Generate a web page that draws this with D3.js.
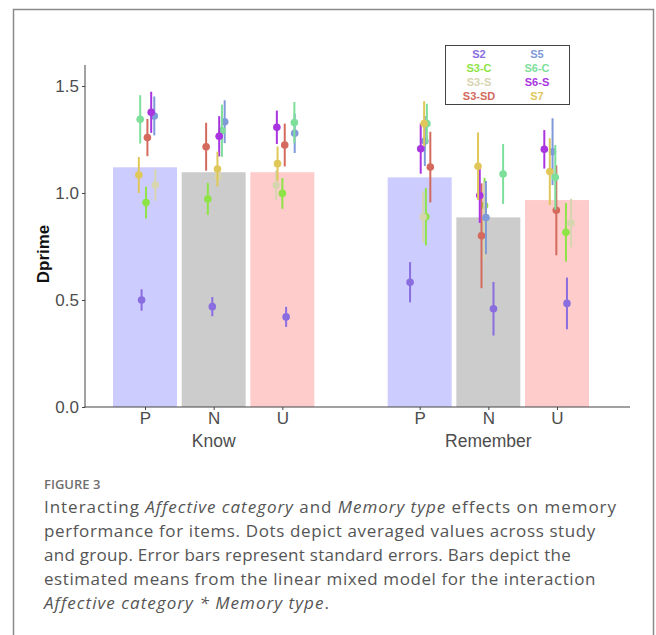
<!DOCTYPE html>
<html>
<head>
<meta charset="utf-8">
<script src="https://cdn.jsdelivr.net/npm/d3@7"></script>
<style>
  body { margin: 0; background: #fff; }
  svg { display: block; }
</style>
</head>
<body>
<div id="chart"></div>
<script>
const groups = ["Know", "Remember"];
const affects = ["P", "N", "U"];
const barMeans = [1.12, 1.097, 1.097, 1.073, 0.886, 0.967]; // KP KN KU RP RN RU
const barColors = ["#ccccff", "#cccccc", "#ffcccc"];

const studies = ["S2", "S3-C", "S3-S", "S3-SD", "S5", "S6-C", "S6-S", "S7"];
const studyColors = ["#8a6ee0", "#8ee346", "#d7d4b0", "#d46a5e", "#7f9ad8", "#7ddf9a", "#a935e0", "#e0c75a"];

// dot means per study, per cell (KP KN KU RP RN RU)
const dotMeans = [
  [0.500, 0.469, 0.421, 0.583, 0.459, 0.484],
  [0.955, 0.972, 0.998, 0.889, 0.941, 0.816],
  [1.037, 1.076, 1.036, 0.888, 0.870, 0.860],
  [1.259, 1.216, 1.224, 1.121, 0.800, 0.919],
  [1.360, 1.333, 1.279, 1.243, 0.885, 1.193],
  [1.344, 1.291, 1.329, 1.324, 1.089, 1.073],
  [1.377, 1.265, 1.307, 1.207, 0.988, 1.204],
  [1.084, 1.112, 1.137, 1.324, 1.125, 1.100]
];
const dotSE = [
  [0.050, 0.045, 0.047, 0.094, 0.125, 0.121],
  [0.074, 0.075, 0.072, 0.134, 0.130, 0.137],
  [0.074, 0.043, 0.069, 0.120, 0.180, 0.113],
  [0.087, 0.112, 0.100, 0.165, 0.245, 0.210],
  [0.091, 0.100, 0.092, 0.117, 0.171, 0.156],
  [0.113, 0.122, 0.096, 0.093, 0.140, 0.151],
  [0.096, 0.094, 0.078, 0.117, 0.128, 0.090],
  [0.084, 0.081, 0.080, 0.105, 0.158, 0.156]
];
// horizontal jitter, in category units
const dotJitter = [
  [-0.05, -0.02, 0.055, -0.14, 0.075, 0.145],
  [0.015, -0.085, 0.0, 0.09, -0.055, 0.13],
  [0.15, 0.06, -0.09, 0.05, -0.06, 0.205],
  [0.035, -0.11, 0.035, 0.155, -0.10, -0.01],
  [0.135, 0.16, 0.18, 0.075, -0.035, -0.065],
  [-0.07, 0.12, 0.175, 0.105, 0.215, -0.025],
  [0.09, 0.08, -0.08, 0.015, -0.125, -0.185],
  [-0.09, 0.055, -0.07, 0.065, -0.15, -0.105]
];
const yTicks = [0, 0.5, 1.0, 1.5];

const captionLines = [
  [["Interacting ", false], ["Affective category", true], [" and ", false], ["Memory type", true], [" effects on memory", false]],
  [["performance for items. Dots depict averaged values across study", false]],
  [["and group. Error bars represent standard errors. Bars depict the", false]],
  [["estimated means from the linear mixed model for the interaction", false]],
  [["Affective category * Memory type", true], [".", false]]
];
// widths of the caption lines in the reference, px
const captionWidths = [573, 552, 527, 552, 286];

const width = 656, height = 635;
const svg = d3.select("#chart").append("svg")
  .attr("width", width)
  .attr("height", height);

// outer frame
svg.append("path")
  .attr("d", "M13.5,640 V9.5 H653.5 V640")
  .attr("fill", "none")
  .attr("stroke", "#8a8a8a")
  .attr("stroke-width", 1.5);

const x = d3.scaleLinear().domain([-0.874, 7.063]).range([85, 630]);
const y = d3.scaleLinear().domain([0, 1.598]).range([407, 65]);
const barW = 0.932;

const cells = [];
groups.forEach((g, gi) => affects.forEach((a, ai) => {
  cells.push({ group: g, affect: a, ai, pos: gi * 4 + ai });
}));

// bars
svg.append("g").selectAll("rect")
  .data(cells)
  .join("rect")
  .attr("x", d => x(d.pos - barW / 2))
  .attr("width", d => x(barW) - x(0))
  .attr("y", (d, i) => y(barMeans[i]))
  .attr("height", (d, i) => y(0) - y(barMeans[i]))
  .attr("fill", d => barColors[d.ai]);

// error bars and dots
const points = [];
studies.forEach((s, si) => cells.forEach((c, ci) => {
  points.push({
    color: studyColors[si],
    px: c.pos + dotJitter[si][ci],
    m: dotMeans[si][ci],
    se: dotSE[si][ci]
  });
}));

const pg = svg.append("g");
points.forEach(p => {
  pg.append("line")
    .attr("x1", x(p.px)).attr("x2", x(p.px))
    .attr("y1", y(p.m - p.se)).attr("y2", y(p.m + p.se))
    .attr("stroke", p.color)
    .attr("stroke-width", 2);
  pg.append("circle")
    .attr("cx", x(p.px)).attr("cy", y(p.m))
    .attr("r", 3.8)
    .attr("fill", p.color);
});

// axes
const yAxis = svg.append("g")
  .attr("transform", "translate(85,0)")
  .call(d3.axisLeft(y).tickValues(yTicks).tickFormat(d3.format(".1f")).tickSize(3).tickPadding(3));
yAxis.select(".domain").remove();
yAxis.selectAll("line").attr("stroke", "#444");
yAxis.selectAll("text")
  .attr("font-family", "Liberation Sans, Arial, sans-serif")
  .attr("font-size", 17)
  .attr("fill", "#4d4d4d");

svg.append("line")
  .attr("x1", 85).attr("x2", 85).attr("y1", 65).attr("y2", 407.5)
  .attr("stroke", "#444");

const xAxis = svg.append("g")
  .attr("transform", "translate(0,407)")
  .call(d3.axisBottom(x).tickValues(cells.map(c => c.pos)).tickFormat((d, i) => cells[i].affect).tickSize(3).tickPadding(2));
xAxis.select(".domain").remove();
xAxis.selectAll("line").attr("stroke", "#444");
xAxis.selectAll("text")
  .attr("font-family", "Liberation Sans, Arial, sans-serif")
  .attr("font-size", 17)
  .attr("fill", "#4d4d4d");

svg.append("line")
  .attr("x1", 84.5).attr("x2", 630).attr("y1", 407).attr("y2", 407)
  .attr("stroke", "#444");

// group labels
svg.append("g").selectAll("text")
  .data(groups)
  .join("text")
  .attr("x", (d, i) => x(i * 4 + 1))
  .attr("y", 447)
  .attr("text-anchor", "middle")
  .attr("font-family", "Liberation Sans, Arial, sans-serif")
  .attr("font-size", 17.5)
  .attr("fill", "#4d4d4d")
  .text(d => d);

// y title
svg.append("text")
  .attr("transform", "translate(49,254) rotate(-90)")
  .attr("text-anchor", "middle")
  .attr("font-family", "Liberation Sans, Arial, sans-serif")
  .attr("font-weight", "bold")
  .attr("font-size", 17)
  .attr("fill", "#111")
  .text("Dprime");

// legend
const lg = svg.append("g");
lg.append("rect")
  .attr("x", 445.5).attr("y", 45.5)
  .attr("width", 124).attr("height", 59)
  .attr("fill", "#fff")
  .attr("stroke", "#444")
  .attr("stroke-width", 1);
studies.forEach((s, i) => {
  const col = Math.floor(i / 4), row = i % 4;
  lg.append("text")
    .attr("x", 479 + col * 58)
    .attr("y", 58 + row * 14)
    .attr("text-anchor", "middle")
    .attr("font-family", "Liberation Sans, Arial, sans-serif")
    .attr("font-weight", "bold")
    .attr("font-size", 11)
    .attr("fill", studyColors[i])
    .text(s);
});

// caption
svg.append("text")
  .attr("x", 44).attr("y", 489)
  .attr("font-family", "Open Sans, sans-serif")
  .attr("font-weight", 600)
  .attr("font-size", 13)
  .attr("fill", "#6f6f6f")
  .text("FIGURE 3");

captionLines.forEach((line, li) => {
  const t = svg.append("text")
    .attr("x", 44).attr("y", 513 + li * 24)
    .attr("font-family", "Open Sans, sans-serif")
    .attr("font-size", 17)
    .attr("fill", "#555");
  line.forEach(([str, it]) => {
    t.append("tspan")
      .attr("font-style", it ? "italic" : "normal")
      .text(str);
  });
  // the reference face runs a little wider than Open Sans: open up the
  // letter spacing so each line ends where it does in the reference
  const n = t.node();
  const sp = Math.max(0, (captionWidths[li] - n.getComputedTextLength()) / n.textContent.length);
  t.attr("letter-spacing", sp);
});
</script>
</body>
</html>
